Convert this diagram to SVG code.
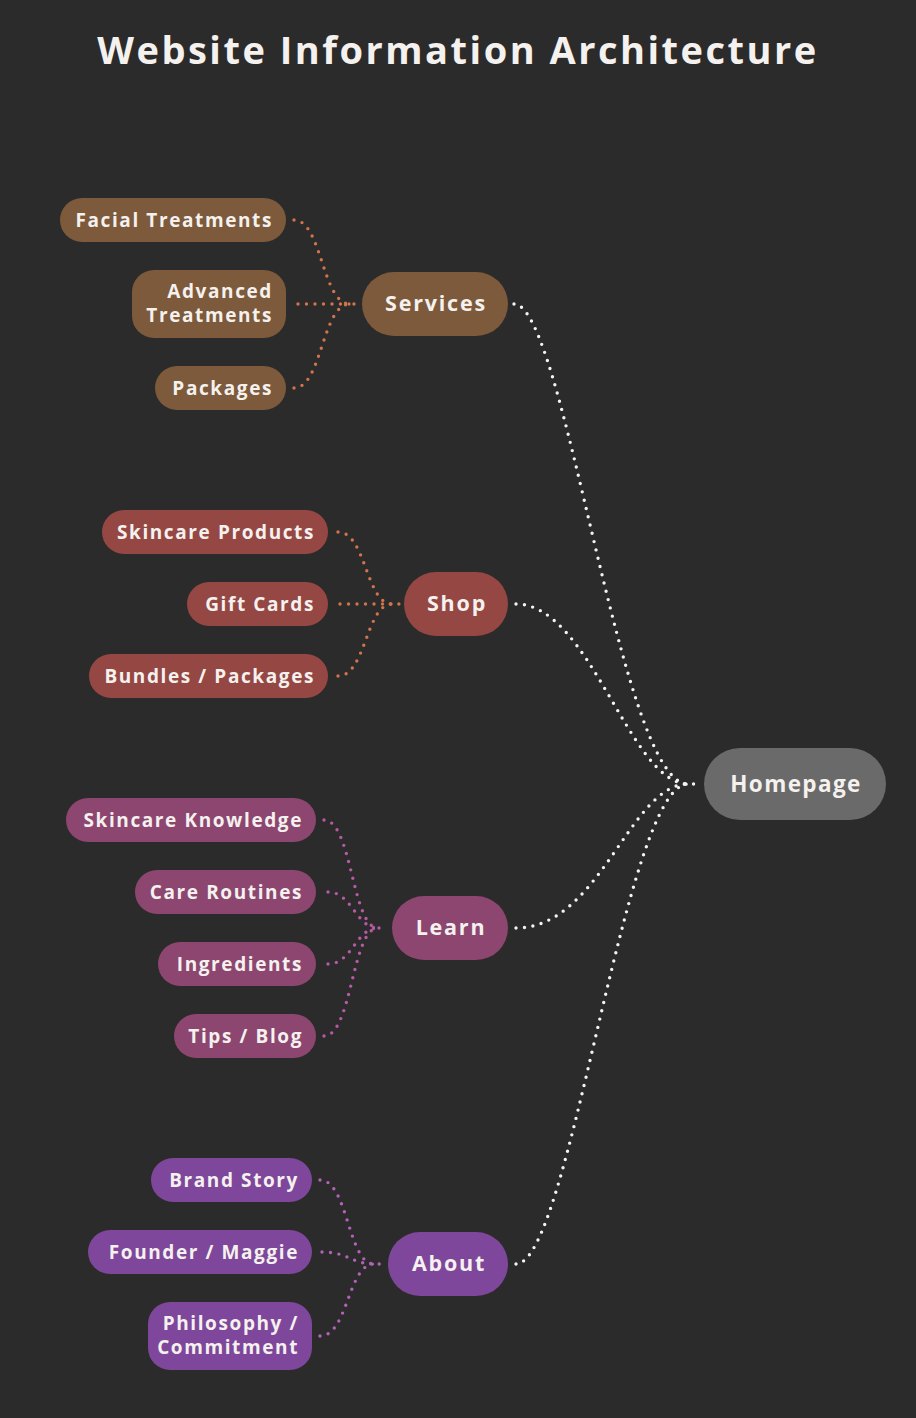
<svg xmlns="http://www.w3.org/2000/svg" width="916" height="1418" viewBox="0 0 916 1418">
<style>
text{font-family:"Open Sans","Liberation Sans",sans-serif;font-weight:700;fill:#f4f1ee}
.title{font-size:38px;letter-spacing:2.5px}
.child text{font-size:19px;letter-spacing:1.6px;text-anchor:end}
.parent text{font-size:21.5px;letter-spacing:1.8px;text-anchor:middle}
.home text{font-size:22.5px;letter-spacing:1.4px;text-anchor:middle}
.e{fill:none;stroke-width:3.4;stroke-linecap:round;stroke-dasharray:0 8.5}
.w{stroke:#f4f4f4}
.o{stroke:#cf744c}
.p{stroke:#b65aa6}
.v{stroke:#b262b8}
.sv{fill:#7d5a3b}
.sh{fill:#954744}
.le{fill:#8c4670}
.ab{fill:#7e479b}
</style>
<rect width="916" height="1418" fill="#2b2b2b"/>
<text class="title" x="458" y="64" text-anchor="middle">Website Information Architecture</text>

<g id="connectors">
  <path class="e w" d="M514,304 C565,304 620,784 688,784 L700,784"/>
  <path class="e w" d="M516,604 C590,604 630,784 688,784"/>
  <path class="e w" d="M516,928 C600,928 630,784 688,784"/>
  <path class="e w" d="M516,1264 C570,1264 625,784 688,784"/>
  <path class="e o" d="M294,220 C322,220 322,304 350,304 L358,304"/>
  <path class="e o" d="M298,304 L350,304"/>
  <path class="e o" d="M294,388 C322,388 322,304 350,304"/>
  <path class="e o" d="M338,532 C366,532 366,604 392,604 L400,604"/>
  <path class="e o" d="M340,604 L392,604"/>
  <path class="e o" d="M338,676 C366,676 366,604 392,604"/>
  <path class="e p" d="M324,820 C352,820 352,928 378,928 L386,928"/>
  <path class="e p" d="M328,892 C352,892 356,928 378,928"/>
  <path class="e p" d="M328,964 C352,964 356,928 378,928"/>
  <path class="e p" d="M324,1036 C352,1036 352,928 378,928"/>
  <path class="e v" d="M320,1180 C348,1180 348,1264 374,1264 L382,1264"/>
  <path class="e v" d="M322,1252 C348,1252 352,1264 374,1264"/>
  <path class="e v" d="M320,1336 C348,1336 348,1264 374,1264"/>
</g>

<g id="homepage" class="home">
  <rect x="704" y="748" width="182" height="72" rx="36" fill="#6a6a6a"/>
  <text x="796" y="792">Homepage</text>
</g>

<g id="services" class="parent">
  <rect class="sv" x="362" y="272" width="146" height="64" rx="32"/>
  <text x="436" y="311">Services</text>
</g>
<g id="facial-treatments" class="child">
  <rect class="sv" x="60" y="198" width="226" height="44" rx="22"/>
  <text x="273" y="227">Facial Treatments</text>
</g>
<g id="advanced-treatments" class="child">
  <rect class="sv" x="132" y="270" width="154" height="68" rx="22"/>
  <text x="273" y="298">Advanced</text>
  <text x="273" y="322">Treatments</text>
</g>
<g id="packages" class="child">
  <rect class="sv" x="155" y="366" width="131" height="44" rx="22"/>
  <text x="273" y="395">Packages</text>
</g>

<g id="shop" class="parent">
  <rect class="sh" x="404" y="572" width="104" height="64" rx="32"/>
  <text x="457" y="611">Shop</text>
</g>
<g id="skincare-products" class="child">
  <rect class="sh" x="102" y="510" width="226" height="44" rx="22"/>
  <text x="315" y="539">Skincare Products</text>
</g>
<g id="gift-cards" class="child">
  <rect class="sh" x="187" y="582" width="141" height="44" rx="22"/>
  <text x="315" y="611">Gift Cards</text>
</g>
<g id="bundles-packages" class="child">
  <rect class="sh" x="89" y="654" width="239" height="44" rx="22"/>
  <text x="315" y="683">Bundles / Packages</text>
</g>

<g id="learn" class="parent">
  <rect class="le" x="392" y="896" width="116" height="64" rx="32"/>
  <text x="451" y="935">Learn</text>
</g>
<g id="skincare-knowledge" class="child">
  <rect class="le" x="66" y="798" width="250" height="44" rx="22"/>
  <text x="303" y="827">Skincare Knowledge</text>
</g>
<g id="care-routines" class="child">
  <rect class="le" x="135" y="870" width="181" height="44" rx="22"/>
  <text x="303" y="899">Care Routines</text>
</g>
<g id="ingredients" class="child">
  <rect class="le" x="158" y="942" width="158" height="44" rx="22"/>
  <text x="303" y="971">Ingredients</text>
</g>
<g id="tips-blog" class="child">
  <rect class="le" x="174" y="1014" width="142" height="44" rx="22"/>
  <text x="303" y="1043">Tips / Blog</text>
</g>

<g id="about" class="parent">
  <rect class="ab" x="388" y="1232" width="120" height="64" rx="32"/>
  <text x="449" y="1271">About</text>
</g>
<g id="brand-story" class="child">
  <rect class="ab" x="151" y="1158" width="161" height="44" rx="22"/>
  <text x="299" y="1187">Brand Story</text>
</g>
<g id="founder-maggie" class="child">
  <rect class="ab" x="88" y="1230" width="224" height="44" rx="22"/>
  <text x="299" y="1259">Founder / Maggie</text>
</g>
<g id="philosophy-commitment" class="child">
  <rect class="ab" x="148" y="1302" width="164" height="68" rx="22"/>
  <text x="299" y="1330">Philosophy /</text>
  <text x="299" y="1354">Commitment</text>
</g>
</svg>
